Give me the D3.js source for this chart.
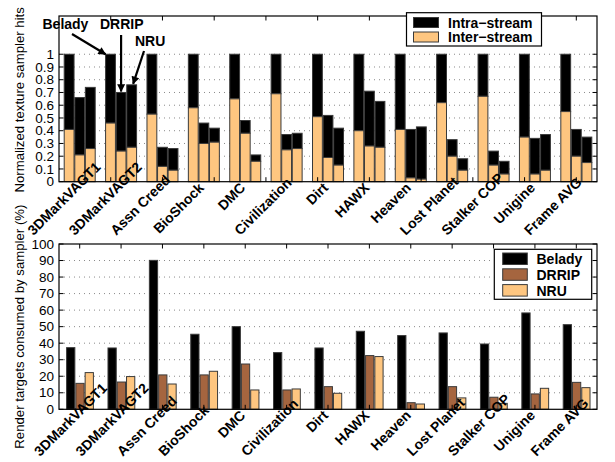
<!DOCTYPE html>
<html>
<head>
<meta charset="utf-8">
<script src="https://cdn.jsdelivr.net/npm/d3@7"></script>
<style>
  html, body { margin: 0; padding: 0; background: #fff; }
  svg { display: block; font-family: "Liberation Sans", Arial, Helvetica, sans-serif; }
</style>
</head>
<body>
<svg id="chart" width="615" height="462"></svg>
<script>
// Benchmarks (x categories), replacement policies (bars in each group)
const categories = ["3DMarkVAGT1", "3DMarkVAGT2", "Assn Creed", "BioShock", "DMC", "Civilization",
  "Dirt", "HAWX", "Heaven", "Lost Planet", "Stalker COP", "Unigine", "Frame AVG"];
const policies = ["Belady", "DRRIP", "NRU"];

// Upper panel: normalized texture sampler hits (total, and inter-stream part of it)
const beladyTotal = [1, 1, 1, 1, 1, 1, 1, 1, 1, 1, 1, 1, 1];
const beladyInter = [0.41, 0.46, 0.53, 0.58, 0.65, 0.69, 0.51, 0.40, 0.41, 0.62, 0.67, 0.35, 0.55];
const drripTotal  = [0.66, 0.70, 0.27, 0.46, 0.48, 0.37, 0.52, 0.71, 0.41, 0.33, 0.24, 0.34, 0.41];
const drripInter  = [0.21, 0.24, 0.12, 0.30, 0.38, 0.25, 0.19, 0.28, 0.03, 0.20, 0.13, 0.06, 0.20];
const nruTotal    = [0.74, 0.76, 0.26, 0.42, 0.21, 0.38, 0.42, 0.63, 0.43, 0.18, 0.16, 0.37, 0.35];
const nruInter    = [0.26, 0.27, 0.09, 0.31, 0.16, 0.26, 0.13, 0.27, 0.02, 0.09, 0.06, 0.09, 0.15];
const hitTicks = [0, 0.1, 0.2, 0.3, 0.4, 0.5, 0.6, 0.7, 0.8, 0.9, 1];
const streamKeys = ["Intra\u2212stream", "Inter\u2212stream"];

// Lower panel: render targets consumed by sampler (%)
const beladyRT = [37.3, 37.1, 90.1, 45.4, 50.0, 34.3, 37.1, 47.2, 44.6, 46.2, 39.5, 58.3, 51.2];
const drripRT  = [15.7, 16.5, 20.8, 20.8, 27.4, 11.7, 13.7, 32.5, 4.0, 13.7, 7.3, 9.3, 16.3];
const nruRT    = [22.2, 19.8, 15.3, 23.0, 11.7, 12.3, 9.7, 31.9, 3.2, 6.9, 3.6, 12.7, 13.1];
const rtTicks = [0, 10, 20, 30, 40, 50, 60, 70, 80, 90, 100];

const BLACK = "#000000", ORANGE = "#fec680", BROWN = "#a5653f", EDGE = "#3a3a3a";
const svg = d3.select("#chart");

const left = 59, right = 597;
const x = d3.scaleBand().domain(categories).range([left, right]).padding(0);

function grid(g, y, ticks, top, bottom) {
  // dotted horizontal grid
  g.append("g").selectAll("line")
    .data(ticks.filter(t => y(t) > top + 1 && y(t) < bottom - 1))
    .join("line")
    .attr("x1", left).attr("x2", right)
    .attr("y1", d => y(d)).attr("y2", d => y(d))
    .attr("stroke", "#8a8a8a").attr("stroke-width", 1)
    .attr("stroke-dasharray", "1,4");
}

function frameTicks(g, y, ticks, top, bottom, fmt, xTickPos) {
  g.append("rect").attr("x", left).attr("y", top)
    .attr("width", right - left).attr("height", bottom - top)
    .attr("fill", "none").attr("stroke", "#000").attr("stroke-width", 1.2);
  const yt = g.append("g");
  // y ticks, inward on both sides
  ticks.forEach(t => {
    yt.append("line").attr("x1", left).attr("x2", left + 4.5).attr("y1", y(t)).attr("y2", y(t))
      .attr("stroke", "#000").attr("stroke-width", 1);
    yt.append("line").attr("x1", right - 4.5).attr("x2", right).attr("y1", y(t)).attr("y2", y(t))
      .attr("stroke", "#000").attr("stroke-width", 1);
    yt.append("text").attr("x", left - 5).attr("y", y(t) + 4.6)
      .attr("text-anchor", "end").attr("font-size", 13.5).attr("fill", "#000").text(fmt(t));
  });
  // x ticks on top and bottom edges, inward
  xTickPos.forEach(px => {
    yt.append("line").attr("x1", px).attr("x2", px).attr("y1", top).attr("y2", top + 4.5)
      .attr("stroke", "#000").attr("stroke-width", 1);
    yt.append("line").attr("x1", px).attr("x2", px).attr("y1", bottom - 4.5).attr("y2", bottom)
      .attr("stroke", "#000").attr("stroke-width", 1);
  });
}

// Slanted category names: right end at the group centre, slid up along
// the slant when the text would otherwise run past the lowest allowed line.
function categoryLabels(g, axisY, lowest) {
  const s = Math.SQRT1_2;
  g.append("g").selectAll("text").data(categories).join("text")
    .attr("text-anchor", "end").attr("font-size", 14).attr("font-weight", "bold")
    .attr("fill", "#000").text(d => d)
    .each(function (d) {
      const len = this.getComputedTextLength();
      let ex = x(d) + x.bandwidth() / 2 + 1, ey = axisY + 7;
      const over = ey + len * s - lowest;
      if (over > 0) { ex += over; ey -= over; }
      d3.select(this).attr("transform", `translate(${ex},${ey}) rotate(-45)`);
    });
}

// ---------------- Upper panel ----------------
{
  const top = 16, bottom = 181.7;
  const y = d3.scaleLinear().domain([0, 1.3]).range([bottom, top]);
  const xs = d3.scaleBand().domain(policies).range([5.2, 36.2]).paddingInner(0.07);
  const g = svg.append("g");
  grid(g, y, hitTicks, top, bottom);

  const totals = { Belady: beladyTotal, DRRIP: drripTotal, NRU: nruTotal };
  const inters = { Belady: beladyInter, DRRIP: drripInter, NRU: nruInter };
  const rows = [];
  categories.forEach((c, i) => policies.forEach(p => rows.push({ c, p, total: totals[p][i], inter: inters[p][i] })));

  const bars = g.append("g");
  // intra-stream part stacked on top of the inter-stream part
  bars.selectAll("rect.intra").data(rows).join("rect").attr("class", "intra")
    .attr("x", d => x(d.c) + xs(d.p)).attr("width", xs.bandwidth())
    .attr("y", d => y(d.total)).attr("height", d => y(d.inter) - y(d.total))
    .attr("fill", BLACK).attr("stroke", EDGE).attr("stroke-width", 1);
  bars.selectAll("rect.inter").data(rows).join("rect").attr("class", "inter")
    .attr("x", d => x(d.c) + xs(d.p)).attr("width", xs.bandwidth())
    .attr("y", d => y(d.inter)).attr("height", d => y(0) - y(d.inter))
    .attr("fill", ORANGE).attr("stroke", EDGE).attr("stroke-width", 1);

  const xt = d3.scaleLinear().domain([0, 10.4]).range([left, right]);
  frameTicks(g, y, hitTicks, top, bottom, d3.format("~g"), d3.range(1, 11).map(xt));
  categoryLabels(g, bottom, 236);

  g.append("text").attr("transform", `translate(24,${(top + bottom) / 2 + 1}) rotate(-90)`)
    .attr("text-anchor", "middle").attr("font-size", 13.2).attr("fill", "#000")
    .text("Normalized texture sampler hits");

  // legend
  const lg = g.append("g");
  lg.append("rect").attr("x", 406.5).attr("y", 12.7).attr("width", 135).attr("height", 33.3)
    .attr("fill", "#fff").attr("stroke", "#000").attr("stroke-width", 1.2);
  [BLACK, ORANGE].forEach((col, i) => {
    lg.append("rect").attr("x", 413.5).attr("y", 17.5 + i * 14.5).attr("width", 25).attr("height", 10)
      .attr("fill", col).attr("stroke", EDGE).attr("stroke-width", 1);
    lg.append("text").attr("x", 448).attr("y", 27.5 + i * 14.5).attr("font-size", 14)
      .attr("font-weight", "bold").attr("fill", "#000").text(streamKeys[i]);
  });

  // policy annotations pointing at the 3DMarkVAGT2 group
  const gi = 1, cat = categories[gi];
  const defs = svg.append("defs");
  defs.append("marker").attr("id", "head").attr("viewBox", "0 0 10 10")
    .attr("refX", 9).attr("refY", 5).attr("markerWidth", 4.2).attr("markerHeight", 3.6)
    .attr("orient", "auto").attr("markerUnits", "strokeWidth")
    .append("path").attr("d", "M0,0 L10,5 L0,10 z").attr("fill", "#000");
  const ann = g.append("g").attr("font-size", 14).attr("font-weight", "bold").attr("fill", "#000");
  const tipB = [x(cat) + xs("Belady"), y(beladyTotal[gi])];
  const tipD = [x(cat) + xs("DRRIP") + xs.bandwidth() / 2, y(drripTotal[gi]) - 1];
  const tipN = [x(cat) + xs("NRU") + xs.bandwidth() / 2 + 1.5, y(nruTotal[gi]) - 1];
  const arrows = [
    { label: "Belady", tx: 42.5, ty: 29, from: [72, 34], to: tipB },
    { label: "DRRIP", tx: 100, ty: 29, from: [tipD[0], 35], to: tipD },
    { label: "NRU", tx: 135, ty: 46, from: [144, 51], to: tipN }
  ];
  arrows.forEach(a => {
    ann.append("text").attr("x", a.tx).attr("y", a.ty).text(a.label);
    ann.append("line").attr("x1", a.from[0]).attr("y1", a.from[1])
      .attr("x2", a.to[0]).attr("y2", a.to[1])
      .attr("stroke", "#000").attr("stroke-width", 2.2).attr("marker-end", "url(#head)");
  });
}

// ---------------- Lower panel ----------------
{
  const top = 244, bottom = 409.3;
  const y = d3.scaleLinear().domain([0, 100]).range([bottom, top]);
  const xs = d3.scaleBand().domain(policies).range([7.6, 34.4]).paddingInner(0.11);
  const g = svg.append("g");
  grid(g, y, rtTicks, top, bottom);

  const vals = { Belady: beladyRT, DRRIP: drripRT, NRU: nruRT };
  const colors = { Belady: BLACK, DRRIP: BROWN, NRU: ORANGE };
  const rows = [];
  categories.forEach((c, i) => policies.forEach(p => rows.push({ c, p, v: vals[p][i] })));
  g.append("g").selectAll("rect").data(rows).join("rect")
    .attr("x", d => x(d.c) + xs(d.p)).attr("width", xs.bandwidth())
    .attr("y", d => y(d.v)).attr("height", d => y(0) - y(d.v))
    .attr("fill", d => colors[d.p]).attr("stroke", EDGE).attr("stroke-width", 1);

  frameTicks(g, y, rtTicks, top, bottom, d3.format("d"),
    categories.map(c => x(c) + x.bandwidth() / 2));
  categoryLabels(g, bottom, 457);

  g.append("text").attr("transform", `translate(24,${(top + bottom) / 2}) rotate(-90)`)
    .attr("text-anchor", "middle").attr("font-size", 13.2).attr("fill", "#000")
    .text("Render targets consumed by sampler (%)");

  const lg = g.append("g");
  lg.append("rect").attr("x", 494.3).attr("y", 249.3).attr("width", 97.4).attr("height", 50)
    .attr("fill", "#fff").attr("stroke", "#000").attr("stroke-width", 1.2);
  policies.forEach((p, i) => {
    lg.append("rect").attr("x", 502.7).attr("y", 253 + i * 15.8).attr("width", 24.6).attr("height", 11.5)
      .attr("fill", colors[p]).attr("stroke", EDGE).attr("stroke-width", 1);
    lg.append("text").attr("x", 536.5).attr("y", 264 + i * 15.8).attr("font-size", 14)
      .attr("font-weight", "bold").attr("fill", "#000").text(p);
  });
}
</script>
</body>
</html>
